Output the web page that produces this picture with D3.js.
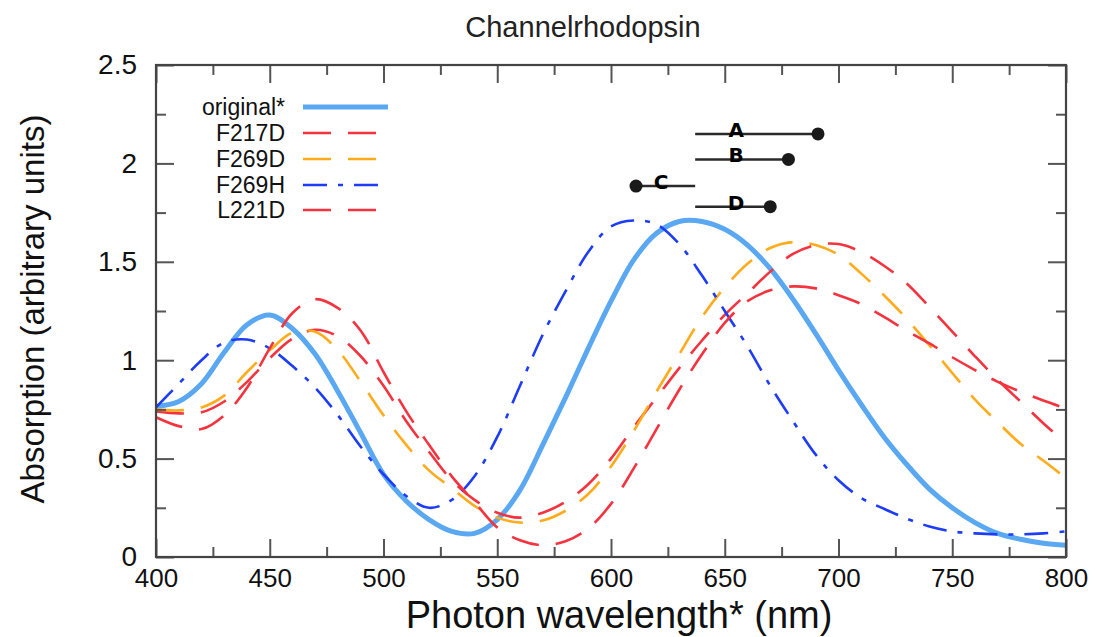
<!DOCTYPE html>
<html>
<head>
<meta charset="utf-8">
<script src="https://cdn.jsdelivr.net/npm/d3@7"></script>
<style>
  html, body { margin: 0; padding: 0; background: #ffffff; }
  svg { display: block; }
  text { font-family: "Liberation Sans", Arial, Helvetica, sans-serif; }
</style>
</head>
<body>
<svg id="chart" width="1099" height="637"></svg>
<script>
// ---------------- data ----------------
const wavelength = [400,410,420,430,440,450,460,470,480,490,500,510,520,530,540,550,560,570,580,590,600,610,620,630,640,650,660,670,680,690,700,710,720,730,740,750,760,770,780,790,800];

const original = [0.765,0.79,0.88,1.04,1.18,1.23,1.16,1.03,0.84,0.63,0.42,0.285,0.19,0.13,0.12,0.19,0.34,0.57,0.81,1.06,1.30,1.51,1.645,1.705,1.705,1.665,1.585,1.465,1.31,1.135,0.95,0.775,0.61,0.47,0.345,0.25,0.175,0.12,0.09,0.07,0.06];

const f217d = [0.74,0.73,0.735,0.79,0.89,1.01,1.11,1.155,1.12,1.02,0.87,0.69,0.535,0.39,0.29,0.225,0.20,0.225,0.28,0.37,0.50,0.66,0.81,0.96,1.10,1.23,1.34,1.45,1.54,1.585,1.59,1.55,1.48,1.39,1.27,1.145,1.02,0.90,0.79,0.68,0.58];

const f269d = [0.75,0.745,0.76,0.82,0.94,1.05,1.14,1.145,1.05,0.89,0.72,0.57,0.44,0.35,0.26,0.20,0.175,0.185,0.235,0.32,0.46,0.64,0.84,1.03,1.22,1.37,1.49,1.57,1.60,1.585,1.535,1.44,1.33,1.21,1.075,0.935,0.80,0.685,0.575,0.49,0.40];

const f269h = [0.76,0.88,1.00,1.09,1.105,1.06,0.97,0.86,0.72,0.56,0.42,0.31,0.25,0.29,0.41,0.61,0.87,1.13,1.35,1.55,1.68,1.71,1.69,1.59,1.43,1.25,1.07,0.87,0.69,0.52,0.39,0.30,0.245,0.195,0.155,0.13,0.12,0.115,0.115,0.12,0.13];

const l221d = [0.71,0.665,0.65,0.72,0.86,1.06,1.24,1.31,1.265,1.15,0.94,0.74,0.57,0.41,0.28,0.15,0.085,0.06,0.08,0.145,0.27,0.45,0.65,0.85,1.03,1.19,1.30,1.355,1.375,1.365,1.33,1.285,1.22,1.15,1.085,1.015,0.95,0.89,0.84,0.795,0.755];

const seriesNames = ["original*","F217D","F269D","F269H","L221D"];

const xMajorTicks = [400,450,500,550,600,650,700,750,800];
const xMinorTicks = [425,475,525,575,625,675,725,775];
const yMajorTicks = [0,0.5,1,1.5,2,2.5];
const yMinorTicks = [0.25,0.75,1.25,1.75,2.25];
const yTickLabels = ["0","0.5","1","1.5","2","2.5"];

// annotation bars (nm, absorption)
const annoLabels = ["A","B","C","D"];
const annoStart  = [637,637,637,637];
const annoEnd    = [691,678,611,670];
const annoLevel  = [2.15,2.02,1.885,1.78];
const annoLabelAt = [655,655,622,655];

const titleText = "Channelrhodopsin";
const xTitle = "Photon wavelength* (nm)";
const yTitle = "Absorption (arbitrary units)";

// ---------------- drawing ----------------
const svg = d3.select("#chart");
const W = 1099, H = 637;
const m = {left:156, right:1066, top:65, bottom:557};

const x = d3.scaleLinear().domain([400,800]).range([m.left, m.right]);
const y = d3.scaleLinear().domain([0,2.5]).range([m.bottom, m.top]);

svg.append("rect").attr("width", W).attr("height", H).attr("fill", "#ffffff");

const styles = {
  "original*": {color:"#5aa8f2", width:5, dash:null},
  "F217D":     {color:"#f4333f", width:2.6, dash:"28,17"},
  "F269D":     {color:"#ffab1c", width:2.6, dash:"28,17"},
  "F269H":     {color:"#1c3cf5", width:2.6, dash:"24,11,5,11"},
  "L221D":     {color:"#f4333f", width:2.6, dash:"28,17"}
};
const seriesValues = {"original*":original, "F217D":f217d, "F269D":f269d, "F269H":f269h, "L221D":l221d};

// clip
svg.append("defs").append("clipPath").attr("id","plotclip")
  .append("rect").attr("x", m.left).attr("y", m.top)
  .attr("width", m.right-m.left).attr("height", m.bottom-m.top);

const line = d3.line()
  .x((d,i) => x(wavelength[i]))
  .y(d => y(d))
  .curve(d3.curveCatmullRom.alpha(0.5));

const plotG = svg.append("g").attr("clip-path","url(#plotclip)");
seriesNames.forEach(name => {
  const st = styles[name];
  plotG.append("path")
    .datum(seriesValues[name])
    .attr("d", line)
    .attr("fill","none")
    .attr("stroke", st.color)
    .attr("stroke-width", st.width)
    .attr("stroke-dasharray", st.dash)
    .attr("stroke-linecap", name === "original*" ? "round" : "butt");
});

// axes (ticks inward on all four sides)
const axColor = "#555";
function styleAxis(g){
  g.select(".domain").remove();
  g.selectAll(".tick line").attr("stroke", axColor).attr("stroke-width", 2);
  g.selectAll("text").attr("fill","#111").style("font-family",'"Liberation Sans", Arial, sans-serif');
}

const gxB = svg.append("g").attr("transform",`translate(0,${m.bottom})`)
  .call(d3.axisBottom(x).tickValues(xMajorTicks).tickSize(-18).tickPadding(12).tickFormat(d3.format("d")));
styleAxis(gxB);
gxB.selectAll("text").style("font-size","26px");
const gxBm = svg.append("g").attr("transform",`translate(0,${m.bottom})`)
  .call(d3.axisBottom(x).tickValues(xMinorTicks).tickSize(-10).tickFormat(""));
styleAxis(gxBm);

const gxT = svg.append("g").attr("transform",`translate(0,${m.top})`)
  .call(d3.axisTop(x).tickValues(xMajorTicks).tickSize(-18).tickFormat(""));
styleAxis(gxT);
const gxTm = svg.append("g").attr("transform",`translate(0,${m.top})`)
  .call(d3.axisTop(x).tickValues(xMinorTicks).tickSize(-10).tickFormat(""));
styleAxis(gxTm);

const gyL = svg.append("g").attr("transform",`translate(${m.left},0)`)
  .call(d3.axisLeft(y).tickValues(yMajorTicks).tickSize(-18).tickPadding(19)
    .tickFormat((d,i) => yTickLabels[i]));
styleAxis(gyL);
gyL.selectAll("text").style("font-size","28px");
const gyLm = svg.append("g").attr("transform",`translate(${m.left},0)`)
  .call(d3.axisLeft(y).tickValues(yMinorTicks).tickSize(-10).tickFormat(""));
styleAxis(gyLm);

const gyR = svg.append("g").attr("transform",`translate(${m.right},0)`)
  .call(d3.axisRight(y).tickValues(yMajorTicks).tickSize(-18).tickFormat(""));
styleAxis(gyR);
const gyRm = svg.append("g").attr("transform",`translate(${m.right},0)`)
  .call(d3.axisRight(y).tickValues(yMinorTicks).tickSize(-10).tickFormat(""));
styleAxis(gyRm);

// frame
svg.append("rect")
  .attr("x", m.left).attr("y", m.top)
  .attr("width", m.right-m.left).attr("height", m.bottom-m.top)
  .attr("fill","none").attr("stroke","#444").attr("stroke-width",2.2);

// titles
svg.append("text").attr("x", 583).attr("y", 37).attr("text-anchor","middle")
  .style("font-size","29px").attr("fill","#222").text(titleText);

svg.append("text").attr("x", 619).attr("y", 628).attr("text-anchor","middle")
  .style("font-size","38px").attr("fill","#111").text(xTitle);

svg.append("text").attr("transform","translate(44,309) rotate(-90)")
  .attr("text-anchor","middle").style("font-size","33px").attr("fill","#111").text(yTitle);

// legend
const legRowY = [107,133,159,185,210];
const legG = svg.append("g");
seriesNames.forEach((name,i) => {
  const st = styles[name];
  legG.append("text").attr("x", 285).attr("y", legRowY[i] + 8)
    .attr("text-anchor","end").style("font-size","23px").attr("fill","#111").text(name);
  legG.append("line").attr("x1",303).attr("x2",388)
    .attr("y1",legRowY[i]).attr("y2",legRowY[i])
    .attr("stroke", st.color).attr("stroke-width", st.width)
    .attr("stroke-dasharray", st.dash);
});

// annotations
const annoG = svg.append("g");
annoLabels.forEach((lab,i) => {
  const yy = y(annoLevel[i]);
  annoG.append("line")
    .attr("x1", x(annoStart[i])).attr("x2", x(annoEnd[i]))
    .attr("y1", yy).attr("y2", yy)
    .attr("stroke","#2a2a2a").attr("stroke-width",2.5);
  annoG.append("circle").attr("cx", x(annoEnd[i])).attr("cy", yy).attr("r", 6.5).attr("fill","#1a1a1a");
  annoG.append("text").attr("x", x(annoLabelAt[i])).attr("y", yy + 3)
    .attr("text-anchor","middle")
    .style("font-family",'"DejaVu Sans", sans-serif')
    .style("font-weight","bold").style("font-size","20px").attr("fill","#000").text(lab);
});
</script>
</body>
</html>
